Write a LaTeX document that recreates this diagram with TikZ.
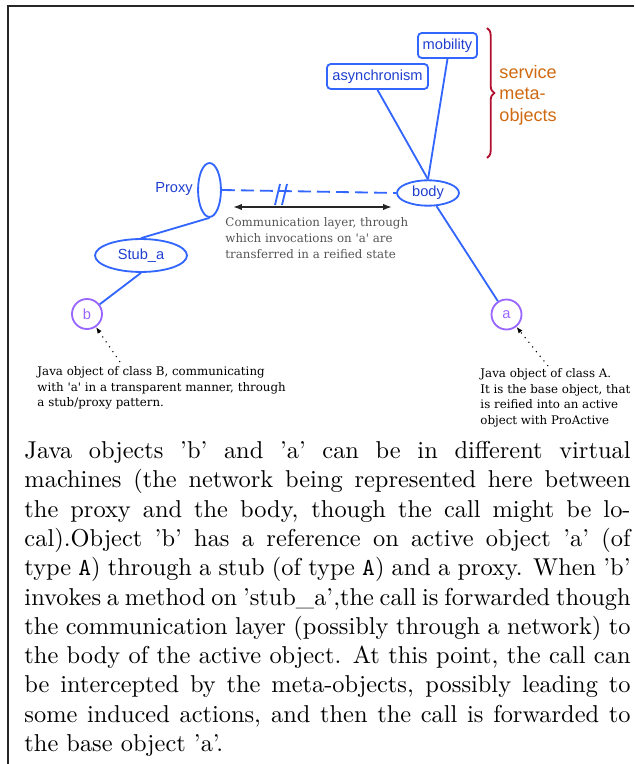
\documentclass[tikz,border=0pt]{standalone}
\usepackage{fontspec}
\setsansfont{Liberation Sans}
\newfontfamily\notefont{DejaVu Serif}
\usetikzlibrary{arrows.meta,shapes.geometric,decorations.pathreplacing}

\definecolor{lineblue}{HTML}{3366FF}
\definecolor{textblue}{HTML}{1F3FD0}
\definecolor{objpurple}{HTML}{9966FF}
\definecolor{bracered}{HTML}{B0102E}
\definecolor{metaorange}{HTML}{D06A12}
\definecolor{layergrey}{HTML}{555555}

\begin{document}
\begin{tikzpicture}[x=0.41pt,y=-0.41pt,
    meta/.style={draw=lineblue,line width=0.75pt,rounded corners=1.5pt,text=textblue,
      inner sep=0pt,minimum height=10.2pt,font=\sffamily\fontsize{6}{7}\selectfont},
    part/.style={ellipse,draw=lineblue,line width=0.75pt,text=textblue,inner sep=0pt,
      font=\sffamily\fontsize{6}{7}\selectfont},
    obj/.style={circle,draw=objpurple,line width=0.75pt,text=objpurple,inner sep=0pt,
      minimum size=12.3pt,font=\sffamily\fontsize{6}{7}\selectfont},
    link/.style={lineblue,line width=0.75pt},
    note/.style={align=left,inner sep=0pt,font=\notefont\fontsize{4.85}{6.4}\selectfont},
    pointer/.style={dotted,line width=0.45pt,-{Latex[length=2.6pt,width=2pt]}}]
  \useasboundingbox (0,0) rectangle (634,764);
  \draw[line width=0.8pt,black!85] (8,764) -- (8,6) -- (634,6);

  % meta-objects and the body
  \node[meta,minimum width=24.2pt] (mob) at (447.5,45.5) {mobility};
  \node[meta,minimum width=41.4pt] (asyn) at (377.5,76.5) {asynchronism};
  \node[part,minimum width=25.4pt,minimum height=10.4pt] (body) at (428,193) {body};
  \draw[link] (asyn.south) -- (body.north);
  \draw[link] (mob.south) -- (body.north);
  \draw[bracered,line width=0.75pt,decorate,decoration={brace,amplitude=3pt}]
    (487,28) -- (487,158);
  \node[align=left,inner sep=0pt,anchor=west,text=metaorange,
    font=\sffamily\fontsize{7.4}{8.8}\selectfont] (service) at (499,95)
    {service\\meta-\\objects};

  % proxy, stub and the two objects
  \node[part,minimum width=9.4pt,minimum height=22.1pt] (proxy) at (209.5,190) {};
  \node[text=textblue,inner sep=0pt,font=\sffamily\fontsize{6}{7}\selectfont]
    (proxylabel) at (174,189) {Proxy};
  \node[part,minimum width=37.7pt,minimum height=13.5pt] (stub) at (141,255.5) {Stub\_a};
  \node[obj] (b) at (87,314) {b};
  \node[obj] (a) at (506.5,314.5) {a};
  \draw[link] (proxy.south) -- (stub.north);
  \draw[link] (stub.south) -- (b);
  \draw[link] (body) -- (a);

  % communication layer
  \draw[link,dash pattern=on 5.3pt off 2.5pt] (proxy.east) -- (body.west);
  \coordinate (cut) at (282,192);
  \draw[link] (cut) ++(-7,13) -- ++(5,-21) (cut) ++(0,13) -- ++(5,-21);
  \coordinate (layerL) at (233,207);
  \coordinate (layerR) at (392,207);
  \draw[black!85,line width=0.7pt,{Latex[length=3.6pt,width=2.6pt]}-{Latex[length=3.6pt,width=2.6pt]}]
    (layerL) -- (layerR);
  \node[note,anchor=west,text=layergrey] (layer) at (225,238)
    {Communication layer, through\\which invocations on \textquotesingle a\textquotesingle{} are\\transferred in a reified state};

  % notes on the objects
  \node[note,anchor=west] (noteb) at (37,388)
    {Java object of class B, communicating\\with \textquotesingle a\textquotesingle{} in a transparent manner, through\\a stub/proxy pattern.};
  \node[note,anchor=west] (notea) at (480,398)
    {Java object of class A.\\It is the base object, that\\is reified into an active\\object with ProActive};
  \coordinate (tipb) at (120,362);
  \coordinate (tipa) at (548,366);
  \draw[pointer] (tipb) -- (b);
  \draw[pointer] (tipa) -- (a);

  % explanation below
  \node[anchor=north west,inner sep=0pt,text width=248.5pt,align=justify,
    font=\fontsize{10}{12}\selectfont] (caption) at (24,441)
    {\hyphenpenalty=10000 Java objects 'b' and 'a' can be in different virtual\linebreak
     machines (the network being represented here between\linebreak
     the proxy and the body, though the call might be lo-\linebreak
     cal).Object 'b' has a reference on active object 'a' (of\linebreak
     type \texttt{A}) through a stub (of type \texttt{A}) and a proxy. When 'b'\linebreak
     invokes a method on 'stub\_a',the call is forwarded though\linebreak
     the communication layer (possibly through a network) to\linebreak
     the body of the active object. At this point, the call can\linebreak
     be intercepted by the meta-objects, possibly leading to\linebreak
     some induced actions, and then the call is forwarded to\linebreak
     the base object 'a'.};
\end{tikzpicture}
\end{document}
